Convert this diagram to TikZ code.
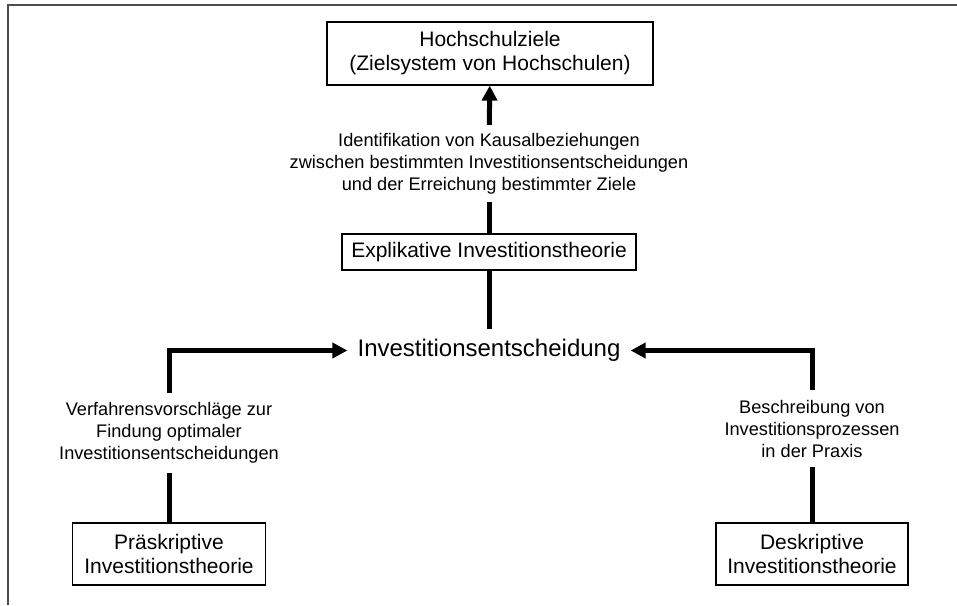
\documentclass[tikz,border=0pt]{standalone}
\usepackage{fontspec}
\setmainfont{Liberation Sans}
\usepackage{tikz}
\usetikzlibrary{arrows.meta}
\tikzset{theorybox/.style={draw, line width=1.2pt, align=center, inner sep=0pt,
    font=\fontsize{21}{24}\selectfont},
  note/.style={align=center, inner sep=9.5pt, font=\fontsize{18.2}{22}\selectfont},
  conn/.style={line width=5pt},
  tip/.style={-{Triangle[length=15pt,width=15pt]}}}

\begin{document}
\begin{tikzpicture}[x=1pt,y=-1pt]
\useasboundingbox (0,0) rectangle (957,605);
\draw[black!70, line width=2pt] (8,605) -- (8,5) -- (957,5);

% boxes
\node[theorybox, minimum width=326pt, minimum height=63pt] (goal) at (490,53.5)
  {Hochschulziele\\(Zielsystem von Hochschulen)};
\node[theorybox, minimum width=294pt, minimum height=36pt] (expl) at (489,252)
  {Explikative Investitionstheorie};
\node[theorybox, minimum width=193pt, minimum height=62pt] (praes) at (169,554)
  {Präskriptive\\Investitionstheorie};
\node[theorybox, minimum width=192pt, minimum height=62pt] (desk) at (812,554)
  {Deskriptive\\Investitionstheorie};
\node[inner sep=10pt, font=\fontsize{24}{30}\selectfont] (dec) at (489,350.5)
  {Investitionsentscheidung};

% labels
\node[note, inner ysep=8pt] (lblA) at (489,163.5) {Identifikation von Kausalbeziehungen\\
  zwischen bestimmten Investitionsentscheidungen\\und der Erreichung bestimmter Ziele};
\node[note] (lblB) at (169,433) {Verfahrensvorschläge zur\\Findung optimaler\\
  Investitionsentscheidungen};
\node[note] (lblC) at (812,428.5) {Beschreibung von\\Investitionsprozessen\\in der Praxis};

% connectors
\draw[conn, tip] (lblA) -- (goal);
\draw[conn] (expl) -- (lblA);
\draw[conn] (dec) -- (expl);
\draw[conn] (praes) -- (lblB);
\draw[conn, tip] (lblB.north) |- (dec.west);
\draw[conn] (desk) -- (lblC);
\draw[conn, tip] (lblC.north) |- (dec.east);
\end{tikzpicture}
\end{document}
